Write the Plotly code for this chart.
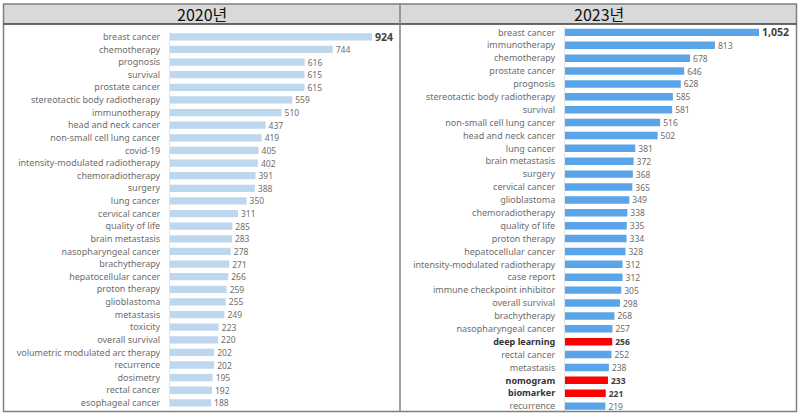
import plotly.graph_objects as go

# ---- data ----
titles = ["2020년", "2023년"]

kw_2020 = ["breast cancer", "chemotherapy", "prognosis", "survival", "prostate cancer",
           "stereotactic body radiotherapy", "immunotherapy", "head and neck cancer",
           "non-small cell lung cancer", "covid-19", "intensity-modulated radiotherapy",
           "chemoradiotherapy", "surgery", "lung cancer", "cervical cancer", "quality of life",
           "brain metastasis", "nasopharyngeal cancer", "brachytherapy", "hepatocellular cancer",
           "proton therapy", "glioblastoma", "metastasis", "toxicity", "overall survival",
           "volumetric modulated arc therapy", "recurrence", "dosimetry", "rectal cancer",
           "esophageal cancer"]
cnt_2020 = [924, 744, 616, 615, 615, 559, 510, 437, 419, 405, 402, 391, 388, 350, 311,
            285, 283, 278, 271, 266, 259, 255, 249, 223, 220, 202, 202, 195, 192, 188]

kw_2023 = ["breast cancer", "immunotherapy", "chemotherapy", "prostate cancer", "prognosis",
           "stereotactic body radiotherapy", "survival", "non-small cell lung cancer",
           "head and neck cancer", "lung cancer", "brain metastasis", "surgery",
           "cervical cancer", "glioblastoma", "chemoradiotherapy", "quality of life",
           "proton therapy", "hepatocellular cancer", "intensity-modulated radiotherapy",
           "case report", "immune checkpoint inhibitor", "overall survival", "brachytherapy",
           "nasopharyngeal cancer", "deep learning", "rectal cancer", "metastasis",
           "nomogram", "biomarker", "recurrence"]
cnt_2023 = [1052, 813, 678, 646, 628, 585, 581, 516, 502, 381, 372, 368, 365, 349, 338,
            335, 334, 328, 312, 312, 305, 298, 268, 257, 256, 252, 238, 233, 221, 219]

highlight_2023 = ["deep learning", "nomogram", "biomarker"]

# ---- styles ----
FONT = "Noto Sans"
LABEL_COLOR = "#6e6e6e"
C_2020 = "#bdd7ee"
C_2023 = "#5aa5ea"
C_HI = "#ff0000"

def val_text(vals):
    out = []
    for i, v in enumerate(vals):
        s = f"{v:,}"
        out.append(f"<b>{s}</b>" if i == 0 else s)
    return out

def val_size(vals):
    return [10.5 if i == 0 else 8.5 for i in range(len(vals))]

def val_color(vals):
    return ["#404040" if i == 0 else LABEL_COLOR for i in range(len(vals))]

fig = go.Figure()

fig.add_trace(go.Bar(
    x=cnt_2020, y=kw_2020, orientation="h", xaxis="x", yaxis="y",
    marker=dict(color=C_2020, line=dict(width=0)),
    text=val_text(cnt_2020), textposition="outside", cliponaxis=False,
    constraintext="none",
    textfont=dict(family=FONT, size=val_size(cnt_2020), color=val_color(cnt_2020)),
    hoverinfo="x+y",
))

colors_2023 = [C_HI if k in highlight_2023 else C_2023 for k in kw_2023]
val_col_2023 = val_color(cnt_2023)
val_col_2023 = ["#404040" if k in highlight_2023 else c for k, c in zip(kw_2023, val_col_2023)]
text_2023 = [f"<b>{t}</b>" if k in highlight_2023 else t for k, t in zip(kw_2023, val_text(cnt_2023))]
fig.add_trace(go.Bar(
    x=cnt_2023, y=kw_2023, orientation="h", xaxis="x2", yaxis="y2",
    marker=dict(color=colors_2023, line=dict(width=0)),
    text=text_2023, textposition="outside", cliponaxis=False,
    constraintext="none",
    textfont=dict(family=FONT, size=val_size(cnt_2023), color=val_col_2023),
    hoverinfo="x+y",
))

ticktext_2023 = [f"<b><span style='color:#333333'>{k}</span></b>" if k in highlight_2023 else k
                 for k in kw_2023]

common_x = dict(showgrid=False, zeroline=False, showticklabels=False, ticks="",
                fixedrange=True)
common_y = dict(showgrid=False, zeroline=False, autorange="reversed", type="category",
                showline=True, linecolor="#e3e3e3", linewidth=1,
                ticks="outside", ticklen=7, tickcolor="rgba(0,0,0,0)",
                tickfont=dict(family=FONT, size=9, color=LABEL_COLOR))

fig.update_layout(
    width=800, height=418,
    margin=dict(l=0, r=0, t=0, b=0),
    paper_bgcolor="white", plot_bgcolor="white",
    showlegend=False, bargap=0.42,
    font=dict(family=FONT),
    xaxis=dict(domain=[0.2125, 0.4875], range=[0, 1006], anchor="y", **common_x),
    yaxis=dict(domain=[0.021, 0.927], anchor="x",
               tickmode="array", tickvals=kw_2020, ticktext=kw_2020, **common_y),
    xaxis2=dict(domain=[0.70625, 0.9875], range=[0, 1220], anchor="y2", **common_x),
    yaxis2=dict(domain=[0.013, 0.938], anchor="x2",
                tickmode="array", tickvals=kw_2023, ticktext=ticktext_2023, **common_y),
)

# table frame
def px(x):
    return x / 800

def py(y):
    return 1 - y / 418

shapes = [
    dict(type="rect", xref="paper", yref="paper", x0=px(3.5), x1=px(796.5), y0=py(4), y1=py(24),
         fillcolor="#d9d9d9", line=dict(width=0), layer="below"),
    dict(type="rect", xref="paper", yref="paper", x0=px(3.5), x1=px(796.5), y0=py(4), y1=py(411.5),
         fillcolor="rgba(0,0,0,0)", line=dict(color="#7f7f7f", width=1.5), layer="above"),
    dict(type="line", xref="paper", yref="paper", x0=px(3.5), x1=px(796.5), y0=py(24), y1=py(24),
         line=dict(color="#3a3a3a", width=1.5), layer="above"),
    dict(type="line", xref="paper", yref="paper", x0=px(400), x1=px(400), y0=py(4), y1=py(411.5),
         line=dict(color="#7f7f7f", width=1.5), layer="above"),
]
fig.update_layout(shapes=shapes)

for cx, t in zip([201.5, 598.5], titles):
    fig.add_annotation(x=px(cx), y=py(14), xref="paper", yref="paper", text=t,
                       showarrow=False, xanchor="center", yanchor="middle",
                       font=dict(family="Noto Sans CJK KR", size=16, color="#111111"))

fig.write_html("out.html", config={"displayModeBar": False},
               post_script="document.body.style.margin='0';document.body.style.overflow='hidden';")
